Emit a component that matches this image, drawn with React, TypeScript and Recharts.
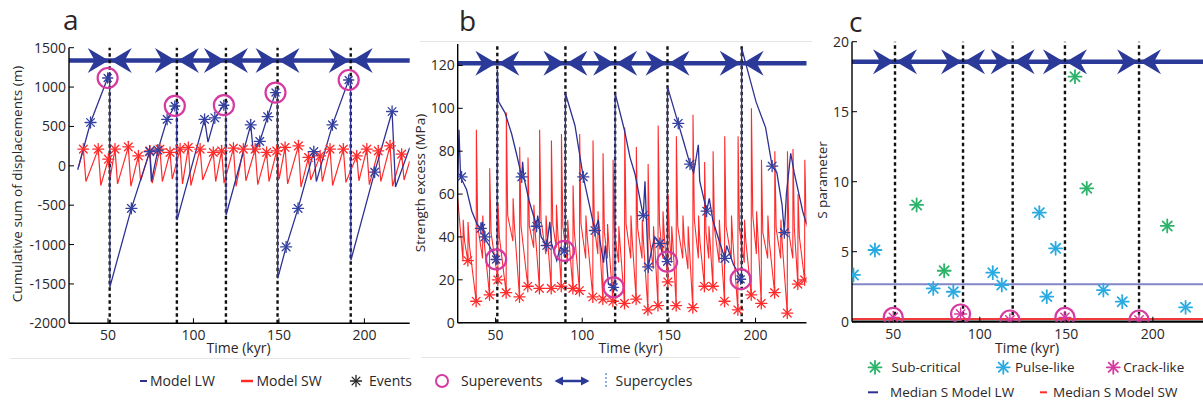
import React from 'react';
import { ComposedChart, Line, Scatter, XAxis, YAxis, ReferenceLine } from 'recharts';

const FONT = '"Open Sans", "DejaVu Sans", sans-serif';
const TEXT = '#2a2627';
const BLUE = '#2e3192';
const RED = '#ff2b2b';
const MAGENTA = '#d63aa0';
const GREEN = '#2bb36a';
const CYAN = '#29abe2';
const ARROW = '#2b3a98';

type P = [number, number];

// ---- shared ----
const timeTicks = [50, 100, 150, 200];
const supercycleBounds = [51, 90.3, 119, 149.2, 192];

// ---- panel a : cumulative displacement ----
const dispTicks = [-2000, -1500, -1000, -500, 0, 500, 1000, 1500];
const dispArrowY = 1338;
const lwDispLine: P[] = [
  [32.3, -50], [39.8, 550], [49.8, 1115], [51, 1190], [51.1, -1540],
  [63.7, -540], [74.4, 180], [75.4, -200], [79.2, 200], [84.6, 590], [89.1, 760], [90.2, 800], [90.4, -690],
  [106.5, 590], [108.5, 300], [112.5, 610], [117.8, 770], [118.9, 800], [119.1, -625],
  [133.5, 520], [135, 180], [138.8, 310], [143.4, 625], [148, 930], [149.1, 960], [149.3, -1430],
  [154.2, -1030], [161.2, -540], [170.4, 180], [171.9, -200], [181.3, 520], [190.8, 1090], [191.9, 1120], [192.1, -1200],
  [206, -80], [216.2, 690], [218.2, -270], [226.5, 230],
];
const lwDispEvents: P[] = [
  [39.8, 550], [63.7, -540], [74.4, 180], [79.2, 200], [84.6, 590], [106.5, 590], [112.5, 610],
  [133.5, 520], [138.8, 310], [143.4, 625], [154.2, -1030], [161.2, -540], [170.4, 180], [181.3, 520],
  [206, -80], [216.2, 690],
];
const lwDispSuper: P[] = [[49.8, 1115], [89.1, 760], [117.8, 770], [148, 930], [190.8, 1090]];
const swDispStart: P = [32.7, -20];
const swDispPeaks: P[] = [
  [35.6, 212], [44.3, 212], [50.2, 84], [54.1, 212], [61.9, 241], [67.8, 126], [74.5, 190], [80.4, 212],
  [86.3, 170], [92.2, 212], [97, 233], [103.9, 212], [111.6, 170], [116.5, 190], [123.4, 224], [129.2, 212],
  [136.1, 212], [142.8, 170], [148.7, 190], [153.6, 233], [161.4, 254], [167.3, 106], [174.1, 126],
  [179.9, 212], [187.7, 212], [195.5, 126], [201.4, 212], [208.1, 190], [215, 254], [221.8, 148],
];
const swDispTroughs: P[] = [
  [37.1, -200], [45.8, -250], [51.3, -150], [55.6, -230], [63.4, -260], [69.1, -190], [75.9, -220], [81.8, -200],
  [87.6, -170], [93.6, -230], [98.5, -250], [105.4, -180], [113, -200], [117.9, -220], [124.9, -260], [130.7, -190],
  [137.6, -240], [144.2, -200], [150.1, -170], [155.1, -230], [162.9, -270], [168.6, -180], [175.4, -200],
  [181.4, -250], [189.2, -210], [196.8, -190], [202.9, -240], [209.6, -200], [216.5, -260], [223.2, -180],
];
const swDispEnd: P = [226.5, 60];

// ---- panel b : strength excess ----
const strTicks = [0, 20, 40, 60, 80, 100, 120];
const strArrowY = 121;
const lwStrLine: P[] = [
  [28.15, 68], [28.9, 90], [29.8, 68], [33.3, 62], [36.3, 52], [39.3, 46], [41.5, 44], [42.3, 47], [44.3, 38.5],
  [46.3, 36], [48.3, 33], [50.3, 30], [50.9, 30], [51, 118], [51.8, 103], [55.4, 98], [59.3, 88], [62.3, 78],
  [65.1, 68], [65.6, 75], [66.3, 68], [69.3, 57], [73.7, 45], [74.3, 50], [76.3, 40], [79.5, 36], [81.3, 47],
  [82.3, 37], [85.3, 29], [87.3, 35], [89.7, 34], [90.2, 34], [90.3, 107], [95.8, 92], [100.6, 68], [103.3, 58],
  [107.3, 43], [109.3, 48], [110.3, 38], [112.3, 28], [113.3, 36], [115.1, 18], [117.3, 17], [118.9, 17],
  [119, 107], [124.3, 90], [127.6, 77], [130.4, 69.5], [135.2, 50], [136.2, 66], [138.1, 26], [140.3, 35],
  [141.9, 40], [144.8, 37], [146.3, 32], [148.9, 29], [149.1, 29], [149.2, 110], [155.4, 93], [158.3, 85],
  [162.2, 74], [164.3, 70], [167, 83], [167.8, 66], [171.8, 52], [173.3, 58], [175.3, 48], [178.3, 40],
  [182.3, 30], [183.3, 36], [187.3, 27], [191.5, 21], [191.9, 20], [192, 128], [196.3, 115], [200.3, 103],
  [205.8, 91], [209.6, 73], [212.3, 70], [215.3, 55], [216.6, 42], [217.8, 60], [220.3, 79], [222.3, 70],
  [227.2, 52], [229.4, 46],
];
const lwStrEvents: P[] = [
  [30.4, 68], [41.5, 44], [43.8, 40], [65.1, 68], [73.7, 45], [79.5, 36], [100.6, 68], [107.3, 43],
  [135.2, 50], [138.1, 26], [144.8, 37], [155.4, 93], [162.2, 74], [171.8, 52], [182.3, 30], [209.6, 73], [216.6, 42],
];
const lwStrSuper: P[] = [[50.3, 29.5], [89.6, 33.5], [118.1, 16.5], [149, 28.5], [191.4, 20.3]];
const swStrStart: P = [28.15, 58];
// [event time, value before event, value right after event, value ~1 kyr later]
const swStrCycles: [number, number, number, number][] = [
  [31.2, 29, 48, 38], [34, 29, 47, 36], [38.8, 10, 90, 45], [42.5, 30, 50, 38], [46.5, 13, 72, 42],
  [51.3, 20, 55, 40], [56.1, 14, 98, 50], [60, 38, 58, 45], [63.8, 12, 82, 45], [68.6, 17, 77, 45],
  [72, 35, 55, 42], [75.3, 16, 90, 48], [79, 32, 50, 40], [82.1, 16, 85, 46], [85, 35, 55, 42],
  [87.9, 17, 88, 45], [91.5, 28, 48, 38], [94.6, 16, 64, 42], [98.4, 15, 88, 46], [102, 30, 50, 40],
  [106.1, 12, 85, 45], [109, 32, 52, 40], [111.9, 11, 79, 42], [114.5, 30, 46, 36], [117.7, 10, 76, 42],
  [121, 28, 45, 36], [124.4, 9, 91, 46], [128, 30, 50, 38], [131.1, 11, 82, 44], [134.5, 30, 48, 37],
  [137.9, 6, 74, 40], [141, 25, 45, 35], [143.7, 8, 92, 46], [146.5, 30, 52, 40], [149.4, 19, 60, 40],
  [151.5, 28, 45, 36], [154.2, 8, 87, 45], [158, 30, 50, 38], [161, 25, 45, 34], [163.8, 7, 97, 48],
  [167, 30, 50, 38], [170.5, 17, 75, 42], [173, 30, 45, 36], [175.4, 17, 80, 44], [179, 28, 48, 37],
  [182.1, 10, 87, 45], [186, 30, 50, 38], [189.8, 6, 87, 44], [193.5, 28, 48, 38], [197.5, 13, 100, 50],
  [200.5, 32, 52, 40], [203.3, 9, 76, 42], [207, 30, 50, 38], [211, 14, 80, 44], [214.5, 30, 48, 37],
  [218.3, 4.5, 80, 42], [221.5, 30, 81, 44], [224.4, 18, 60, 40], [228.3, 20, 76, 50],
];
const swStrSpikeDecay = 0.9; // kyr from post-event peak to the knee value
const swStrEnd: P = [229.4, 45];
const swStrEvents: P[] = [
  [34, 29], [38.8, 10], [46.5, 13], [51.3, 20], [56.1, 14], [63.8, 12], [68.6, 17], [75.3, 16], [82.1, 16],
  [87.9, 17], [94.6, 16], [98.4, 15], [106.1, 12], [111.9, 11], [117.7, 10], [124.4, 9], [131.1, 11], [137.9, 6],
  [143.7, 8], [149.4, 19], [154.2, 8], [163.8, 7], [170.5, 17], [175.4, 17], [182.1, 10], [189.8, 6], [197.5, 13],
  [203.3, 9], [211, 14], [218.3, 4.5], [224.4, 18], [228.3, 20],
];

// ---- panel c : S parameter ----
const sTicks = [0, 5, 10, 15, 20];
const sArrowY = 18.57;
const subCritical: P[] = [[63.5, 8.34], [79.4, 3.64], [155, 17.5], [161.8, 9.53], [208.3, 6.84]];
const pulseLike: P[] = [
  [27, 3.34], [39.4, 5.12], [73.1, 2.38], [84.7, 2.14], [107.5, 3.5], [112.7, 2.62], [134.4, 7.79],
  [138.7, 1.79], [143.8, 5.24], [171.4, 2.26], [182.3, 1.43], [218.9, 1.03],
];
const crackLike: P[] = [[50, 0.31], [88.9, 0.55], [117.4, 0.12], [149.2, 0.31], [192, 0.12]];
const medianLW = 2.67;
const medianSW = 0.2;

// ---- helpers ----
const pts = (a: P[]) => a.map(([x, y]) => ({ x, y }));
const swDispLineData = pts([
  swDispStart,
  ...swDispPeaks.flatMap((p, i) => [p, swDispTroughs[i]]),
  swDispEnd,
]);
const swStrLineData = pts([
  swStrStart,
  ...swStrCycles.flatMap(([x, lo, hi, knee]) => [[x, lo], [x + 0.12, hi], [x + swStrSpikeDecay, knee]] as P[]),
  swStrEnd,
]);

function Asterisk({ cx, cy, r, color, sw = 1.3 }: any) {
  const d = r * 0.707;
  return (
    <g stroke={color} strokeWidth={sw} strokeLinecap="round">
      <line x1={cx - r} y1={cy} x2={cx + r} y2={cy} />
      <line x1={cx} y1={cy - r} x2={cx} y2={cy + r} />
      <line x1={cx - d} y1={cy - d} x2={cx + d} y2={cy + d} />
      <line x1={cx - d} y1={cy + d} x2={cx + d} y2={cy - d} />
    </g>
  );
}

const star = (color: string, r: number, sw = 1.3) => (p: any) =>
  p.cx == null ? <g /> : <Asterisk cx={p.cx} cy={p.cy} r={r} color={color} sw={sw} />;

const ring = (r: number, inner: string | null, ir = 5) => (p: any) =>
  p.cx == null ? <g /> : (
    <g>
      {inner && <Asterisk cx={p.cx} cy={p.cy} r={ir} color={inner} sw={1.4} />}
      <circle cx={p.cx} cy={p.cy} r={r} fill="none" stroke={MAGENTA} strokeWidth={2.2} />
    </g>
  );

const arrowPair = (p: any) => {
  if (p.cx == null) return <g />;
  const { cx, cy } = p;
  const L = 21, h = 12.5, n = 7;
  return (
    <g fill={ARROW}>
      <path d={`M${cx - 1} ${cy} L${cx - 1 - L} ${cy - h} L${cx - 1 - L + n} ${cy} L${cx - 1 - L} ${cy + h} Z`} />
      <path d={`M${cx + 1} ${cy} L${cx + 1 + L} ${cy - h} L${cx + 1 + L - n} ${cy} L${cx + 1 + L} ${cy + h} Z`} />
    </g>
  );
};

const tickStyle = { fill: TEXT, fontSize: 14, fontFamily: FONT };
const axLine = { stroke: '#000', strokeWidth: 1.4 };
const tkLine = { stroke: '#000', strokeWidth: 1 };

function axes(domX: [number, number], domY: [number, number], yTicks: number[], bottomW = 1.4) {
  return [
    <XAxis key="xb" type="number" dataKey="x" domain={domX} ticks={timeTicks} allowDataOverflow height={30}
      tickSize={-5} tickMargin={12} axisLine={{ stroke: '#000', strokeWidth: bottomW }} tickLine={tkLine} tick={tickStyle} interval={0} />,
    <XAxis key="xt" xAxisId="t" orientation="top" type="number" dataKey="x" domain={domX} ticks={timeTicks}
      allowDataOverflow height={0} tickSize={-5} axisLine={axLine} tickLine={tkLine} tick={false} />,
    <YAxis key="yl" type="number" dataKey="y" domain={domY} ticks={yTicks} allowDataOverflow width={60}
      tickSize={-5} tickMargin={8} axisLine={axLine} tickLine={tkLine} tick={tickStyle} interval={0} />,
    <YAxis key="yr" yAxisId="r" orientation="right" type="number" dataKey="y" domain={domY} ticks={yTicks}
      allowDataOverflow width={0} tickSize={-5} axisLine={axLine} tickLine={tkLine} tick={false} />,
  ];
}

function supercycles(arrowY: number) {
  return [
    <ReferenceLine key="arl" y={arrowY} stroke={ARROW} strokeWidth={4.5} />,
    <Scatter key="arr" data={supercycleBounds.map((x) => ({ x, y: arrowY }))} dataKey="y" shape={arrowPair} isAnimationActive={false} />,
    ...supercycleBounds.map((b) => (
      <ReferenceLine key={'b' + b} x={b} stroke="#111" strokeWidth={2.4} strokeDasharray="3.5 3" />
    )),
  ];
}

function PanelA() {
  return (
    <ComposedChart width={420} height={360} margin={{ top: 47.7, left: 9, right: 10.3, bottom: 6.7 }}>
      {axes([27.2, 226.5], [-2000, 1500], dispTicks)}
      {supercycles(dispArrowY)}
      <Line data={swDispLineData} dataKey="y" stroke={RED} strokeWidth={1.2} dot={false} isAnimationActive={false} />
      <Line data={pts(lwDispLine)} dataKey="y" stroke={BLUE} strokeWidth={1.3} dot={false} isAnimationActive={false} />
      <Scatter data={pts(swDispPeaks)} dataKey="y" shape={star(RED, 5.5)} isAnimationActive={false} />
      <Scatter data={pts(lwDispEvents)} dataKey="y" shape={star('#3441a0', 5.5)} isAnimationActive={false} />
      <Scatter data={pts(lwDispSuper)} dataKey="y" shape={ring(10, '#3441a0')} isAnimationActive={false} />
    </ComposedChart>
  );
}

function PanelB() {
  return (
    <ComposedChart width={420} height={360} margin={{ top: 44, left: 7.7, right: 3.5, bottom: 7.3 }}>
      {axes([28.15, 229.4], [0, 130], strTicks)}
      {supercycles(strArrowY)}
      <Line data={swStrLineData} dataKey="y" stroke={RED} strokeWidth={1.1} dot={false} isAnimationActive={false} />
      <Line data={pts(lwStrLine)} dataKey="y" stroke={BLUE} strokeWidth={1.3} dot={false} isAnimationActive={false} />
      <Scatter data={pts(swStrEvents)} dataKey="y" shape={star(RED, 5.5)} isAnimationActive={false} />
      <Scatter data={pts(lwStrEvents)} dataKey="y" shape={star('#3441a0', 5.5)} isAnimationActive={false} />
      <Scatter data={pts(lwStrSuper)} dataKey="y" shape={ring(10, '#3441a0')} isAnimationActive={false} />
    </ComposedChart>
  );
}

function PanelC() {
  return (
    <ComposedChart width={430} height={360} margin={{ top: 41.7, left: 2, right: 14, bottom: 8.3 }}>
      {axes([26.15, 230.7], [0, 20], sTicks, 2.2)}
      {supercycles(sArrowY)}
      <ReferenceLine y={medianLW} stroke="#8286c8" strokeWidth={2} />
      <ReferenceLine y={medianSW} stroke="#ee3a3a" strokeWidth={2} />
      <Scatter data={pts(subCritical)} dataKey="y" shape={star(GREEN, 6.5, 1.8)} isAnimationActive={false} />
      <Scatter data={pts(pulseLike)} dataKey="y" shape={star(CYAN, 6.5, 1.8)} isAnimationActive={false} />
      <Scatter data={pts(crackLike)} dataKey="y" shape={ring(9.5, MAGENTA, 6)} isAnimationActive={false} />
    </ComposedChart>
  );
}

function Overlay() {
  const t = { fontFamily: FONT, fill: TEXT };
  const legY = 381;
  return (
    <svg width={1203} height={401} style={{ position: 'absolute', left: 0, top: 0, pointerEvents: 'none' }}>
      <g stroke="#e6e6e6" strokeWidth={1}>
        <line x1={10} y1={358.5} x2={410} y2={358.5} />
        <line x1={421} y1={357.5} x2={740} y2={357.5} />
        <line x1={420} y1={41.5} x2={812} y2={41.5} />
      </g>
      <text x={63} y={30} fontSize={28} {...t}>a</text>
      <text x={459} y={31} fontSize={28} {...t}>b</text>
      <text x={849} y={32} fontSize={28} {...t}>c</text>
      <text transform="translate(22,184) rotate(-90)" textAnchor="middle" fontSize={13.5} {...t}>Cumulative sum of displacements (m)</text>
      <text transform="translate(425,183) rotate(-90)" textAnchor="middle" fontSize={13.5} {...t}>Strength excess (MPa)</text>
      <text transform="translate(827,180) rotate(-90)" textAnchor="middle" fontSize={13.5} {...t}>S parameter</text>
      <text x={238.5} y={353} textAnchor="middle" fontSize={14} {...t}>Time (kyr)</text>
      <text x={630.5} y={353} textAnchor="middle" fontSize={14} {...t}>Time (kyr)</text>
      <text x={1027} y={353} textAnchor="middle" fontSize={14} {...t}>Time (kyr)</text>

      {/* main legend */}
      <line x1={140} y1={legY} x2={147} y2={legY} stroke={BLUE} strokeWidth={2} />
      <text x={150} y={legY + 5} fontSize={14} {...t}>Model LW</text>
      <line x1={241} y1={legY} x2={253} y2={legY} stroke={RED} strokeWidth={2.5} />
      <text x={256.5} y={legY + 5} fontSize={14} {...t}>Model SW</text>
      <Asterisk cx={356} cy={legY} r={5.5} color="#222" sw={1.3} />
      <text x={369} y={legY + 5} fontSize={14} {...t}>Events</text>
      <circle cx={442} cy={legY} r={6} fill="none" stroke={MAGENTA} strokeWidth={2} />
      <text x={461} y={legY + 5} fontSize={14} {...t}>Superevents</text>
      <line x1={560} y1={legY} x2={584} y2={legY} stroke={ARROW} strokeWidth={2.5} />
      <path d={`M554.5 ${legY} L563 ${legY - 4.5} L563 ${legY + 4.5} Z`} fill={ARROW} />
      <path d={`M589.5 ${legY} L581 ${legY - 4.5} L581 ${legY + 4.5} Z`} fill={ARROW} />
      <line x1={606} y1={legY - 8} x2={606} y2={legY + 8} stroke="#8fb0e0" strokeWidth={2} strokeDasharray="2 2" />
      <text x={615.5} y={legY + 5} fontSize={14} {...t}>Supercycles</text>

      {/* panel c legend */}
      <Asterisk cx={875} cy={367.3} r={6.5} color={GREEN} sw={1.8} />
      <text x={891.5} y={372} fontSize={13.5} {...t}>Sub-critical</text>
      <Asterisk cx={1003.3} cy={367.3} r={6.5} color={CYAN} sw={1.8} />
      <text x={1015} y={372} fontSize={13.5} {...t}>Pulse-like</text>
      <Asterisk cx={1113.3} cy={367.3} r={6.5} color={MAGENTA} sw={1.8} />
      <text x={1123.3} y={372} fontSize={13.5} {...t}>Crack-like</text>
      <line x1={868} y1={392.3} x2={878} y2={392.3} stroke={BLUE} strokeWidth={2} />
      <text x={890} y={397} fontSize={13.5} {...t}>Median S Model LW</text>
      <line x1={1040} y1={392.3} x2={1047} y2={392.3} stroke={RED} strokeWidth={2} />
      <text x={1053} y={397} fontSize={13.5} {...t}>Median S Model SW</text>
    </svg>
  );
}

export default function App() {
  return (
    <div style={{ position: 'fixed', left: 0, top: 0, width: 1203, height: 401, overflow: 'hidden', background: '#fff', fontFamily: FONT }}>
      <div style={{ position: 'absolute', left: 0, top: 0 }}><PanelA /></div>
      <div style={{ position: 'absolute', left: 390, top: 0 }}><PanelB /></div>
      <div style={{ position: 'absolute', left: 790, top: 0 }}><PanelC /></div>
      <Overlay />
    </div>
  );
}
